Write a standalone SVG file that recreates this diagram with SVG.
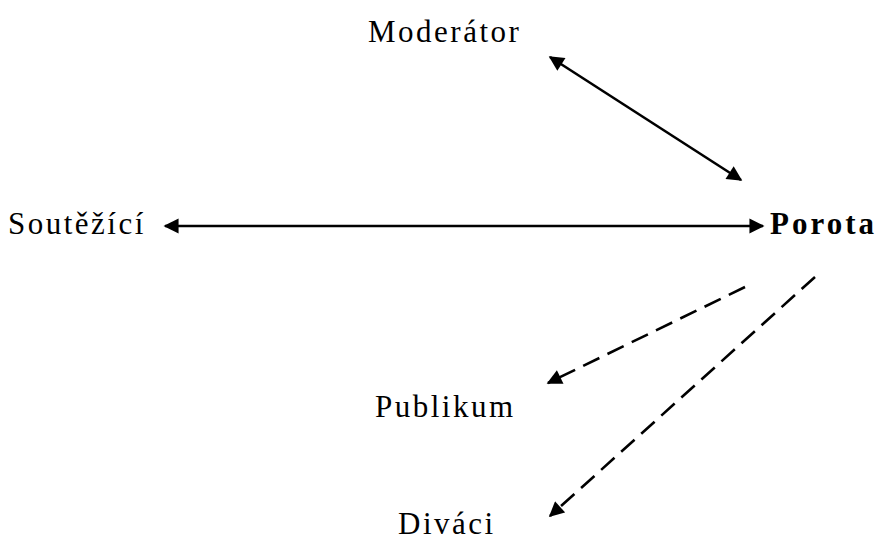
<svg xmlns="http://www.w3.org/2000/svg" width="880" height="543" viewBox="0 0 880 543">
<defs>
<marker id="ah" viewBox="0 0 10 10" refX="9" refY="5" markerWidth="6.5" markerHeight="5.8" orient="auto-start-reverse" markerUnits="strokeWidth">
<path d="M0,0 L10,5 L0,10 Z" fill="#000"/>
</marker>
<style>
text{font-family:"Liberation Serif","Times New Roman",serif;font-size:31px;letter-spacing:2.5px;fill:#000}
.b{font-weight:bold;letter-spacing:3px}
.c{stroke:#000;stroke-width:2.6;fill:none}
.d{stroke-dasharray:18,9}
</style>
</defs>
<g id="connectors">
<line class="c" x1="550" y1="57" x2="741" y2="180" marker-start="url(#ah)" marker-end="url(#ah)"/>
<line class="c" x1="165" y1="226" x2="763" y2="226" marker-start="url(#ah)" marker-end="url(#ah)"/>
<line class="c d" x1="745" y1="287" x2="548" y2="383" marker-end="url(#ah)"/>
<line class="c d" x1="815" y1="277" x2="550" y2="516" marker-end="url(#ah)"/>
</g>
<g id="moderator"><text x="368" y="42">Moderátor</text></g>
<g id="soutezici"><text x="8" y="234">Soutěžící</text></g>
<g id="porota"><text class="b" x="770" y="234">Porota</text></g>
<g id="publikum"><text x="375" y="417">Publikum</text></g>
<g id="divaci"><text x="398" y="534">Diváci</text></g>
</svg>
